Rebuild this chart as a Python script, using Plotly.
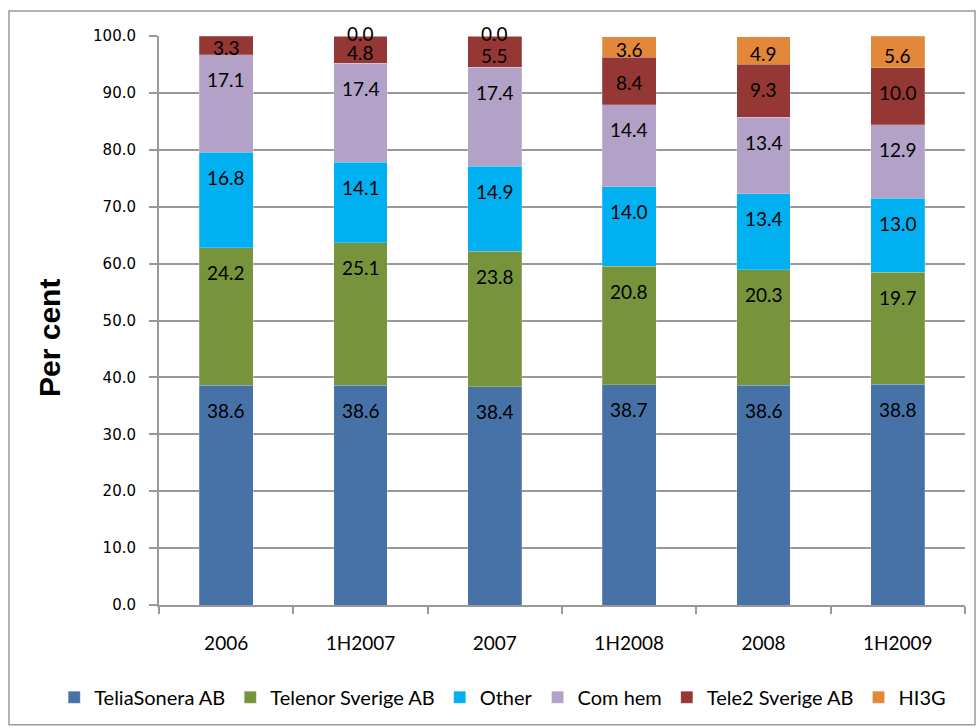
import plotly.graph_objects as go

categories = ["2006", "1H2007", "2007", "1H2008", "2008", "1H2009"]
series_names = ["TeliaSonera AB", "Telenor Sverige AB", "Other", "Com hem", "Tele2 Sverige AB", "HI3G"]
teliasonera = [38.6, 38.6, 38.4, 38.7, 38.6, 38.8]
telenor = [24.2, 25.1, 23.8, 20.8, 20.3, 19.7]
other = [16.8, 14.1, 14.9, 14.0, 13.4, 13.0]
comhem = [17.1, 17.4, 17.4, 14.4, 13.4, 12.9]
tele2 = [3.3, 4.8, 5.5, 8.4, 9.3, 10.0]
hi3g = [None, 0.0, 0.0, 3.6, 4.9, 5.6]
colors = ["#4672A8", "#77933C", "#00B0F0", "#B3A2C7", "#953735", "#E3873B"]
ytick_vals = [0, 10, 20, 30, 40, 50, 60, 70, 80, 90, 100]

series = [teliasonera, telenor, other, comhem, tele2, hi3g]

PX_PER_UNIT = 570 / 100.0

fig = go.Figure()
for name, vals, col in zip(series_names, series, colors):
    fig.add_trace(go.Bar(
        x=categories, y=vals, name=name,
        marker=dict(color=col, line=dict(color="rgba(255,255,255,0.35)", width=0.6)),
        hoverinfo="x+y+name",
    ))

# Data labels (inside end, like Excel); x given as category index
annotations = []
cum = [0.0] * len(categories)
for vals in series:
    for i, v in enumerate(vals):
        if v is None:
            continue
        cum[i] += v
        px = v * PX_PER_UNIT
        off = -3 if v == 0 else min(25, px * 0.62)
        annotations.append(dict(
            x=i, y=cum[i], xref="x", yref="y",
            text=f"{v:.1f}", showarrow=False, yanchor="middle",
            yshift=-off, font=dict(family="Lato", size=19, color="black"),
        ))

annotations.append(dict(
    x=-0.1352, y=0.4693, xref="paper", yref="paper", text="<b>Per cent</b>",
    showarrow=False, textangle=-90, xanchor="center", yanchor="middle",
    font=dict(family="Liberation Sans", size=30, color="black"),
))

fig.update_layout(
    barmode="stack",
    bargap=0.6,
    width=976, height=727,
    margin=dict(l=159, r=11, t=36, b=121),
    paper_bgcolor="white", plot_bgcolor="white",
    annotations=annotations,
    showlegend=True,
    legend=dict(orientation="h", xref="paper", yref="paper",
                x=-0.13, xanchor="left", y=-0.16, yanchor="middle",
                font=dict(family="Lato", size=20, color="black"),
                traceorder="normal", itemwidth=30, bgcolor="rgba(0,0,0,0)"),
    shapes=[dict(type="rect", xref="paper", yref="paper",
                 x0=-0.1861, x1=1.0124, y0=-0.2105, y1=1.0439,
                 line=dict(color="#999999", width=1.5))],
)

fig.update_yaxes(
    range=[0, 100], tickvals=ytick_vals, tickformat=".1f",
    showgrid=True, gridcolor="#999999", gridwidth=2,
    showline=True, linecolor="#999999", linewidth=2,
    ticks="outside", ticklen=8, tickcolor="#999999", tickwidth=2,
    ticklabelstandoff=10,
    tickfont=dict(family="DejaVu Sans", size=15, color="black"),
    zeroline=False,
)
fig.update_xaxes(
    type="category", categoryorder="array", categoryarray=categories,
    range=[-0.5, len(categories) - 0.5],
    showline=True, linecolor="#999999", linewidth=2,
    ticks="outside", tickson="boundaries", ticklen=7, tickcolor="#999999", tickwidth=2,
    ticklabelstandoff=20, tickangle=0,
    tickfont=dict(family="Lato", size=19, color="black"),
)

fig.write_html("out.html")
